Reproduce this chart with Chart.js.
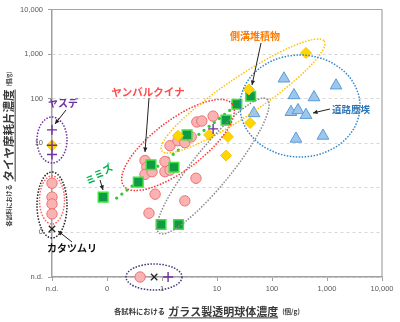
<!DOCTYPE html>
<html><head><meta charset="utf-8">
<script src="https://cdn.jsdelivr.net/npm/chart.js@4"></script>
<style>html,body{margin:0;padding:0;background:#fff}canvas{display:block}</style>
</head><body>
<canvas id="c" width="400" height="322"></canvas>
<script>
// ---- data ----
const ND = 0.01; // "n.d." position on both log axes
const tickValues = [0.01, 0.1, 1, 10, 100, 1000, 10000];
const xTickLabels = ['n.d.', '0', '1', '10', '100', '1,000', '10,000'];
const yTickLabels = ['n.d.', '0', '', '10', '100', '1,000', '10,000'];

// ミミズ (earthworm)
const wormX = [0.085, 0.37, 0.63, 1.65, 0.96, 2.0, 2.85, 14.6, 23, 41];
const wormY = [0.62, 1.34, 3.3, 2.9, 0.15, 0.15, 15.4, 33, 75, 113];
// ミミズ trend (end points)
const trendX = [0.15, 17.2];
const trendY = [0.59, 55];
// ヤンバルクイナ (rail)
const railX = [0.49, 0.53, 0.49, 0.66, 1.13, 1.13, 1.4, 0.75, 2.6, 0.58, 4.15, 1.4, 1.95, 2.6, 3.4, 4.3, 5.3, 8.5, ND, ND, ND, ND, 0.4];
const railY = [4.1, 2.9, 2.0, 2.3, 3.9, 2.3, 2.5, 0.72, 0.51, 0.27, 1.64, 8.8, 11.4, 10.3, 13.9, 30, 31.5, 40.6, 1.27, 0.62, 0.435, 0.26, ND];
// 側溝堆積物 (gutter sediment)
const gutterX = [ND, 1.95, 7.2, 15.8, 14.6, 40, 38, 415];
const gutterY = [9, 14.7, 15.4, 13.9, 5.3, 28.4, 161, 1060];
// 道路塵埃 (road dust)
const dustX = [165, 1460, 251, 580, 221, 297, 415, 47, 273, 845];
const dustY = [282, 197, 119, 107, 50, 55, 43, 47, 12.6, 14.7];
// ヤスデ (millipede)
const milliX = [ND, ND, ND, 8.5, 1.29];
const milliY = [20, 9, 5.6, 21, ND];
// カタツムリ (snail)
const snailX = [ND, 0.72];
const snailY = [0.12, ND];

const pts = (xs, ys) => xs.map((x, i) => ({x: x, y: ys[i]}));
const labelFor = (labels, v) => {
  let best = 0, d = Infinity;
  tickValues.forEach((t, i) => { const dd = Math.abs(Math.log10(t) - Math.log10(v)); if (dd < d) { d = dd; best = i; } });
  return labels[best];
};

const JP = '"Noto Sans CJK JP", "Noto Sans", sans-serif';

function dottedEllipse(ctx, cx, cy, rx, ry, rot, color) {
  ctx.save();
  ctx.strokeStyle = color; ctx.lineWidth = 1.5; ctx.setLineDash([1.5, 1.5]);
  ctx.beginPath(); ctx.ellipse(cx, cy, rx, ry, rot * Math.PI / 180, 0, Math.PI * 2); ctx.stroke();
  ctx.restore();
}
function arrow(ctx, x1, y1, x2, y2) {
  ctx.save();
  ctx.strokeStyle = '#222'; ctx.fillStyle = '#222'; ctx.lineWidth = 1;
  ctx.beginPath(); ctx.moveTo(x1, y1); ctx.lineTo(x2, y2); ctx.stroke();
  const a = Math.atan2(y2 - y1, x2 - x1), L = 4.5, W = 2.2;
  ctx.beginPath();
  ctx.moveTo(x2, y2);
  ctx.lineTo(x2 - L * Math.cos(a) + W * Math.sin(a), y2 - L * Math.sin(a) - W * Math.cos(a));
  ctx.lineTo(x2 - L * Math.cos(a) - W * Math.sin(a), y2 - L * Math.sin(a) + W * Math.cos(a));
  ctx.closePath(); ctx.fill();
  ctx.restore();
}
function label(ctx, text, x, y, color, size, rot) {
  ctx.save();
  ctx.translate(x, y);
  if (rot) ctx.rotate(rot * Math.PI / 180);
  ctx.font = 'bold ' + size + 'px ' + JP;
  ctx.fillStyle = color; ctx.textAlign = 'center'; ctx.textBaseline = 'middle';
  ctx.fillText(text, 0, 0);
  ctx.restore();
}
function richTitle(ctx, segs, cx, cy, rot) {
  ctx.save();
  ctx.translate(cx, cy);
  if (rot) ctx.rotate(rot * Math.PI / 180);
  ctx.textBaseline = 'middle'; ctx.textAlign = 'left'; ctx.fillStyle = '#3a3a3a'; ctx.strokeStyle = '#3a3a3a';
  let total = 0;
  segs.forEach(s => { ctx.font = 'bold ' + s.size + 'px ' + JP; s.w = ctx.measureText(s.t).width; total += s.w + (s.gap || 0); });
  let x = -total / 2;
  segs.forEach(s => {
    ctx.font = 'bold ' + s.size + 'px ' + JP;
    ctx.fillText(s.t, x, 0);
    if (s.u) { ctx.lineWidth = 1; ctx.beginPath(); ctx.moveTo(x, s.size * 0.58); ctx.lineTo(x + s.w, s.size * 0.58); ctx.stroke(); }
    x += s.w + (s.gap || 0);
  });
  ctx.restore();
}

const decor = {
  id: 'decor',
  beforeDatasetsDraw(chart) {
    const {ctx, chartArea: a} = chart;
    ctx.save();
    ctx.strokeStyle = '#a6a6a6'; ctx.lineWidth = 1.2;
    ctx.beginPath(); ctx.moveTo(a.left, a.top); ctx.lineTo(a.right, a.top); ctx.lineTo(a.right, a.bottom); ctx.stroke();
    ctx.restore();
  },
  afterDatasetsDraw(chart) {
    const ctx = chart.ctx;
    // ellipses
    dottedEllipse(ctx, 52, 140, 15, 23, 0, '#7030a0');
    dottedEllipse(ctx, 52, 205, 15, 33, 0, '#222');
    dottedEllipse(ctx, 52, 200, 12.5, 24, 0, '#ff6060');
    dottedEllipse(ctx, 154, 277, 28, 13, 0, '#3d3a78');
    dottedEllipse(ctx, 178, 145, 68, 25, -37, '#ff3030');
    dottedEllipse(ctx, 243, 96, 98, 19, -34, '#ffc000');
    dottedEllipse(ctx, 213, 166, 86, 19, -51, '#8a8a8a');
    dottedEllipse(ctx, 300, 106, 60, 51, 0, '#2e86d0');
    // labels
    label(ctx, 'ヤスデ', 63, 103, '#7030a0', 10);
    label(ctx, 'ヤンバルクイナ', 148, 92, '#ff4b4b', 10.5);
    label(ctx, '側溝堆積物', 255, 36, '#ff7a00', 10);
    label(ctx, '道路塵埃', 351, 109, '#2e75b6', 9.5);
    label(ctx, 'ミミズ', 99, 174, '#00b050', 10, -32);
    label(ctx, 'カタツムリ', 72, 248, '#111', 10);
    // arrows
    arrow(ctx, 66, 110, 55, 124);
    arrow(ctx, 149, 98, 145, 152);
    arrow(ctx, 261, 43, 252, 85);
    arrow(ctx, 330, 109, 313, 113);
    arrow(ctx, 100, 180, 103, 190);
    arrow(ctx, 72, 242, 58, 231);
  },
  afterDraw(chart) {
    const ctx = chart.ctx;
    richTitle(ctx, [
      {t: '各試料における', size: 7.3, gap: 3},
      {t: 'ガラス製透明球体濃度', size: 11, u: true, gap: 4},
      {t: '(個/g)', size: 6.5}
    ], 207, 311.5, 0);
    richTitle(ctx, [
      {t: '各試料における', size: 6, gap: 3},
      {t: 'タイヤ摩耗片濃度', size: 11.5, u: true, gap: 3},
      {t: '(個/g)', size: 5.5}
    ], 8.5, 149, -90);
  }
};

const tickFont = {family: '"Liberation Sans", Arial, sans-serif', size: 7.5};

new Chart(document.getElementById('c'), {
  type: 'scatter',
  data: {
    datasets: [
      {label: 'ヤスデ', data: pts(milliX, milliY), pointStyle: 'cross', pointRadius: 5, borderColor: '#7030a0', borderWidth: 1.4, backgroundColor: '#7030a0'},
      {label: 'カタツムリ', data: pts(snailX, snailY), pointStyle: 'crossRot', pointRadius: 4.5, borderColor: '#222', borderWidth: 1.3, backgroundColor: '#222'},
      {label: '側溝堆積物', data: pts(gutterX, gutterY), pointStyle: 'rectRot', pointRadius: 5.5, backgroundColor: '#ffd700', borderColor: '#ffc000', borderWidth: 1},
      {label: 'ミミズ', data: pts(wormX, wormY), pointStyle: 'rect', pointRadius: 6.8, backgroundColor: '#0f9a44', borderColor: '#3fe23f', borderWidth: 1.5},
      {label: 'ヤンバルクイナ', data: pts(railX, railY), pointStyle: 'circle', pointRadius: 5.2, backgroundColor: '#f9b3b3', borderColor: '#f07272', borderWidth: 1},
      {label: '道路塵埃', data: pts(dustX, dustY), pointStyle: 'triangle', pointRadius: 6.8, backgroundColor: '#9dc6ec', borderColor: '#5b9bd5', borderWidth: 1},
      {label: 'trend', type: 'line', data: pts(trendX, trendY), showLine: true, pointRadius: 0, borderColor: '#2ecc2e', borderWidth: 3.3, borderDash: [0, 6.5], borderCapStyle: 'round', fill: false}
    ]
  },
  options: {
    responsive: false, animation: false, devicePixelRatio: 1,
    clip: false,
    layout: {padding: {top: 6, right: 18, left: 0, bottom: 0}},
    plugins: {legend: {display: false}, tooltip: {enabled: false}},
    scales: {
      x: {
        type: 'logarithmic', min: 0.01, max: 10000,
        afterBuildTicks: s => { s.ticks = tickValues.map(v => ({value: v})); },
        afterFit: s => { s.height = 45; },
        ticks: {autoSkip: false, maxRotation: 0, minRotation: 0, padding: 3, color: '#595959', font: tickFont, callback: v => labelFor(xTickLabels, v)},
        grid: {drawOnChartArea: false, drawTicks: true, tickLength: 4, tickColor: '#a0a0a0', tickWidth: 1},
        border: {display: true, color: '#a0a0a0', width: 1.5}
      },
      y: {
        type: 'logarithmic', min: 0.01, max: 10000,
        afterBuildTicks: s => { s.ticks = tickValues.map(v => ({value: v})); },
        afterFit: s => { s.width = 52; },
        ticks: {autoSkip: false, padding: 5, color: '#595959', font: tickFont, callback: v => labelFor(yTickLabels, v)},
        grid: {drawOnChartArea: true, color: '#d6d6d6', lineWidth: 1, drawTicks: true, tickLength: 4, tickColor: '#a0a0a0', tickWidth: 1},
        border: {display: true, color: '#a0a0a0', width: 1.5, dash: [3, 3]}
      }
    }
  },
  plugins: [decor]
});
</script>
</body></html>
